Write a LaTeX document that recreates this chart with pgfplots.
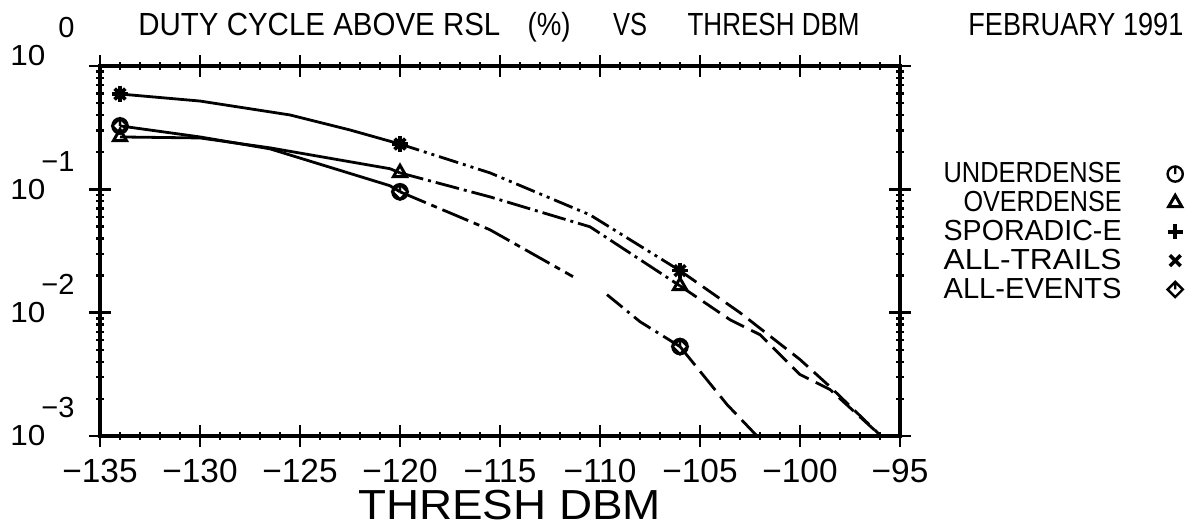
\documentclass[border=0pt]{standalone}
\usepackage{fontspec}
\setmainfont{Liberation Sans}
\usepackage{graphicx}
\usepackage{pgfplots}
\pgfplotsset{compat=1.18}

% circle with a stroke to the top (underdense)
\pgfdeclareplotmark{uden}{%
  \pgfpathcircle{\pgfpointorigin}{\pgfplotmarksize}%
  \pgfpathmoveto{\pgfpointorigin}%
  \pgfpathlineto{\pgfqpoint{0pt}{\pgfplotmarksize}}%
  \pgfusepathqstroke}
% diamond with a stroke to the top (all events)
\pgfdeclareplotmark{allev}{%
  \pgfpathmoveto{\pgfqpoint{-\pgfplotmarksize}{0pt}}%
  \pgfpathlineto{\pgfqpoint{0pt}{\pgfplotmarksize}}%
  \pgfpathlineto{\pgfqpoint{\pgfplotmarksize}{0pt}}%
  \pgfpathlineto{\pgfqpoint{0pt}{-\pgfplotmarksize}}%
  \pgfpathclose
  \pgfpathmoveto{\pgfpointorigin}%
  \pgfpathlineto{\pgfqpoint{0pt}{\pgfplotmarksize}}%
  \pgfusepathqstroke}

% stretch text to a given width, height kept (plotter lettering)
\newcommand\fit[2]{\resizebox{#1}{\height}{#2}}
% 10 with a raised exponent
\newcommand\ylab[2]{\fit{17.5pt}{10}\smash{\raisebox{14pt}{\hspace{6.5pt}\llap{#1}#2}}}

\pgfplotsset{
  mk/.style={only marks, line width=1.2pt, mark size=3.8pt,
    legend image code/.code={\draw[##1] plot coordinates {(0pt,0pt)};}},
  ln/.style={line width=1.4pt, forget plot},
}

\begin{document}
\begin{tikzpicture}
\useasboundingbox (-50pt,-46.5pt) rectangle (545pt,218pt);
\begin{axis}[
  at={(0,0)}, anchor=south west,
  scale only axis, width=400pt, height=185pt,
  ymode=log,
  xmin=-135, xmax=-95, ymin=1e-3, ymax=1,
  xtick={-135,-130,...,-95},
  xticklabels={−135,−130,−125,−120,−115,−110,−105,−100,−95},
  minor x tick num=4,
  ytick={1e-3,1e-2,1e-1,1},
  yticklabels={\ylab{−}{3},\ylab{−}{2},\ylab{−}{1},\raisebox{11pt}{\ylab{}{0}}},
  axis line style={line width=1.6pt},
  every tick/.style={black, line width=1.2pt},
  tick align=center,
  major tick length=11pt, minor tick length=4pt,
  xticklabel style={font=\fontsize{16.7}{17}\selectfont, inner sep=0.5pt, yshift=-5.5pt},
  yticklabel style={font=\fontsize{14.5}{15}\selectfont,
    anchor=west, xshift=-39.5pt, inner sep=0pt},
  xlabel={\fit{151.5pt}{THRESH DBM}},
  xlabel style={at={(0.512,0)}, anchor=base, yshift=-41.5pt, inner sep=0pt,
    font=\fontsize{21}{21}\selectfont},
  legend plot pos=right,
  legend cell align=right,
  legend style={at={(1.354,0.7405)}, anchor=north east, draw=none, fill=none,
    inner sep=0pt, nodes={inner sep=0pt},
    font=\fontsize{14.5}{15}\selectfont, row sep=2.8pt, column sep=23pt},
  clip=false,
]
% ---- lines (no legend) ----
% sporadic-E / all-trails
\addplot[ln] coordinates {
  (-134,0.593) (-130,0.520) (-125.5,0.401) (-122.5,0.303) (-120,0.233)};
\addplot[ln, dash pattern=on 10pt off 2.5pt on 1.5pt off 2.5pt on 1.5pt off 2.5pt] coordinates {
  (-120,0.233) (-115.5,0.136) (-110.5,0.0621) (-106,0.0219)};
\addplot[ln, dash pattern=on 10pt off 4pt] coordinates {
  (-106,0.0219) (-103,0.0100) (-100,0.00417) (-98.5,0.00251) (-95.95,0.001)};
% overdense
\addplot[ln] coordinates {
  (-134,0.266) (-130,0.261) (-126.5,0.217) (-120.5,0.147) (-120,0.136)};
\addplot[ln, dash pattern=on 12pt off 2.5pt on 1.5pt off 2.5pt] coordinates {
  (-120,0.136) (-115.5,0.0869) (-110.5,0.0497) (-106,0.0165)};
\addplot[ln, dash pattern=on 10pt off 4pt] coordinates {
  (-106,0.0165) (-103.5,0.00877) (-102,0.00663) (-100,0.00315) (-98.5,0.00238) (-95.95,0.001)};
% underdense / all-events
\addplot[ln] coordinates {
  (-134,0.327) (-130,0.266) (-126.5,0.213) (-120.5,0.107) (-120,0.0955)};
\addplot[ln, dash pattern=on 14pt off 3pt on 3pt off 3pt] coordinates {
  (-120,0.0955) (-115.5,0.0470) (-111.35,0.0196)};
\addplot[ln, dash pattern=on 10pt off 3pt on 1.5pt off 3pt] coordinates {
  (-109.65,0.0140) (-108,0.00845) (-106,0.00531)};
\addplot[ln, dash pattern=on 12pt off 4pt] coordinates {
  (-106,0.00531) (-103.65,0.00180) (-102.15,0.001)};

% ---- marks ----
\addplot[mk, mark=uden] coordinates {
  (-134,0.327) (-120,0.0955) (-106,0.00531)};
\addlegendentry{\fit{89pt}{UNDERDENSE}}
\addplot[mk, mark=triangle, line width=1.5pt] coordinates {
  (-134,0.266) (-120,0.136) (-106,0.0165)};
\addlegendentry{\fit{79pt}{OVERDENSE}}
\addplot[mk, mark=+, line width=1.8pt] coordinates {
  (-134,0.593) (-120,0.233) (-106,0.0219)};
\addlegendentry{\fit{89pt}{SPORADIC-E}}
\addplot[mk, mark=x, line width=1.8pt] coordinates {
  (-134,0.593) (-120,0.233) (-106,0.0219)};
\addlegendentry{\fit{89pt}{ALL-TRAILS}}
\addplot[mk, mark=allev] coordinates {
  (-134,0.327) (-120,0.0955) (-106,0.00531)};
\addlegendentry{\fit{89pt}{ALL-EVENTS}}

% ---- title ----
\begin{scope}[font=\fontsize{16}{16}\selectfont, every node/.style={anchor=base west, inner sep=0pt}]
\node at ([yshift=15.5pt]rel axis cs:0.0475,1) {\fit{181pt}{DUTY CYCLE ABOVE RSL}};
\node at ([yshift=15.5pt]rel axis cs:0.534,1) {\fit{21.5pt}{(\%)}};
\node at ([yshift=15.5pt]rel axis cs:0.641,1) {\fit{17pt}{VS}};
\node at ([yshift=15.5pt]rel axis cs:0.734,1) {\fit{86pt}{THRESH DBM}};
\node at ([yshift=15.5pt]rel axis cs:1.085,1) {\fit{107.5pt}{FEBRUARY 1991}};
\end{scope}
\end{axis}
\end{tikzpicture}
\end{document}
